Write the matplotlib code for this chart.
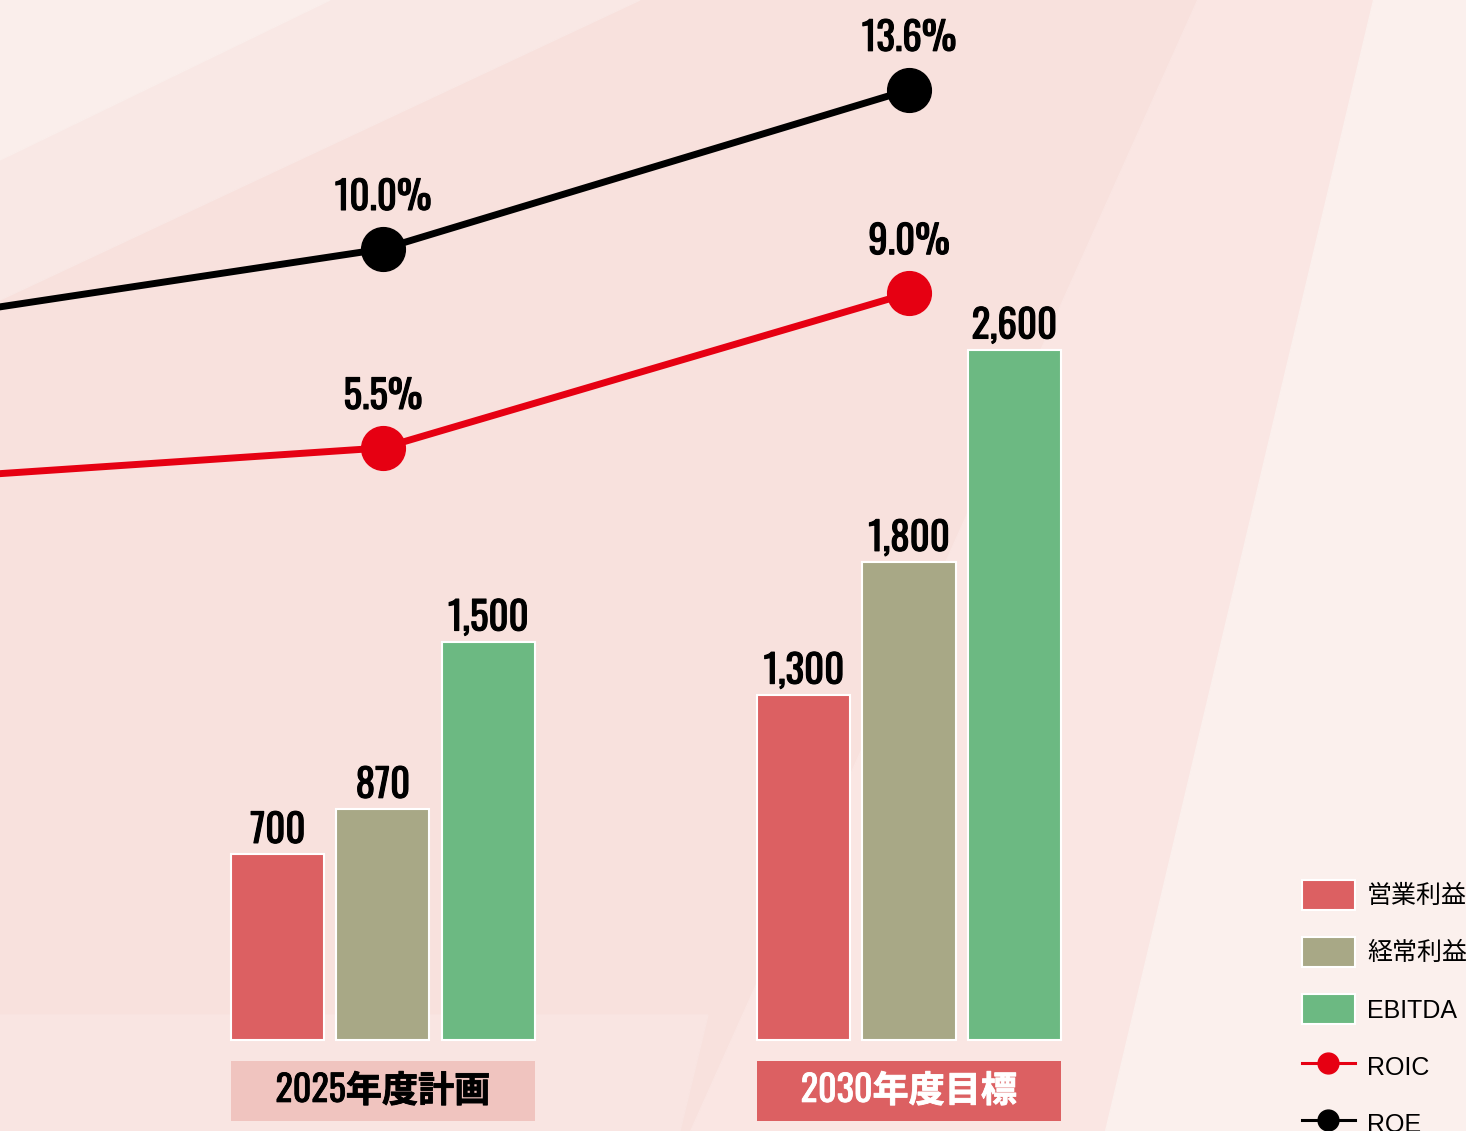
import numpy as np
import matplotlib.pyplot as plt
import matplotlib.patheffects as pe
from matplotlib import font_manager
from matplotlib.patches import Patch, Polygon
from matplotlib.lines import Line2D

# data
periods = ["2025年度計画", "2030年度目標"]
op_profit = [700, 1300]          # 営業利益
ordinary_profit = [870, 1800]    # 経常利益
ebitda = [1500, 2600]            # EBITDA
# ratio lines start from an earlier point that sits outside the frame
line_pos = [-1, 0, 1]
roic = [4.7, 5.5, 9.0]
roe = [8.2, 10.0, 13.6]
bar_names = ["営業利益", "経常利益", "EBITDA"]
line_names = ["ROIC", "ROE"]

bar_colors = ["#DC6062", "#A8A886", "#6CB982"]
box_colors = ["#F0C4BF", "#DC6062"]
box_text_colors = ["black", "white"]
roic_color = "#E60012"
roe_color = "black"

# condensed face for the numbers
installed = {f.name for f in font_manager.fontManager.ttflist}
cond = [f for f in ["Oswald", "Barlow Condensed", "Asap Condensed", "Archivo Narrow"] if f in installed][:1]
num_font = cond + ["Noto Sans CJK JP", "DejaVu Sans"]
legend_font = ["Liberation Sans", "Noto Sans CJK JP", "DejaVu Sans"]

def heavy(color="black", lw=0.8):
    # thicken the strokes a little, the condensed face only comes in one weight
    return [pe.withStroke(linewidth=lw, foreground=color)]

W, H = 1466, 1131
fig = plt.figure(figsize=(W / 100, H / 100), dpi=100)

# background
bg = fig.add_axes([0, 0, 1, 1], zorder=0)
bg.set_xlim(0, W)
bg.set_ylim(H, 0)
bg.axis("off")
bg.add_patch(Polygon([(0, 0), (W, 0), (W, H), (0, H)], color="#F8E1DD"))
bg.add_patch(Polygon([(0, 0), (640, 0), (0, 300)], color="#F9E8E5"))
bg.add_patch(Polygon([(0, 0), (330, 0), (0, 160)], color="#FAEEEB"))
bg.add_patch(Polygon([(0, 1015), (708, 1015), (680, H), (0, H)], color="#F9E5E2"))
bg.add_patch(Polygon([(1197, 0), (W, 0), (W, H), (690, H)], color="#FAE6E3"))
bg.add_patch(Polygon([(1373, 0), (W, 0), (W, H), (1105, H)], color="#FBF0ED"))

ax = fig.add_axes([0, 0, 1, 1], zorder=1)
ax.patch.set_alpha(0)
ax.set_xlim(-0.728, 2.059)
ax.set_ylim(-343, 3917)
ax.axis("off")

x = np.arange(len(periods))
offsets = [-0.2, 0.0, 0.2]
width = 0.177
for vals, off, col in zip([op_profit, ordinary_profit, ebitda], offsets, bar_colors):
    bars = ax.bar(x + off, vals, width, color=col, edgecolor="white", linewidth=1.5)
    ax.bar_label(bars, labels=[f"{v:,}" for v in vals], padding=3,
                 fontsize=28, fontweight="bold", family=num_font,
                 path_effects=heavy())

# period label boxes under the bars
box = ax.bar(x, -226, 0.578, bottom=-79, color=box_colors, linewidth=0)
for xi, name, tc in zip(x, periods, box_text_colors):
    ax.text(xi, -79 - 113, name, ha="center", va="center", color=tc,
            fontsize=26, fontweight="bold", family=num_font,
            path_effects=heavy(tc, 0.6))

ax2 = ax.twinx()
ax2.set_ylim(-9.95, 15.63)
ax2.axis("off")
for vals, col in [(roic, roic_color), (roe, roe_color)]:
    ax2.plot(line_pos, vals, color=col, lw=5, marker="o", ms=31.5, zorder=3)
    for p, v in zip(line_pos, vals):
        if p >= 0:
            ax2.annotate(f"{v:.1f}%", (p, v), xytext=(0, 23), textcoords="offset points",
                         ha="center", va="bottom", fontsize=28, fontweight="bold",
                         family=num_font, path_effects=heavy())

handles = [Patch(facecolor=c, edgecolor="white", linewidth=1.5) for c in bar_colors]
handles += [Line2D([], [], color=roic_color, lw=2.2, marker="o", ms=15),
            Line2D([], [], color=roe_color, lw=2.2, marker="o", ms=15)]
fig.legend(handles, bar_names + line_names, loc="upper left",
           bbox_to_anchor=(1302 / W, 1 - 880 / H), frameon=False,
           prop={"family": legend_font, "size": 18}, handlelength=2.1,
           handleheight=1.45, labelspacing=1.1, handletextpad=0.5,
           borderpad=0, borderaxespad=0)

fig.savefig("out.png", dpi=100)
